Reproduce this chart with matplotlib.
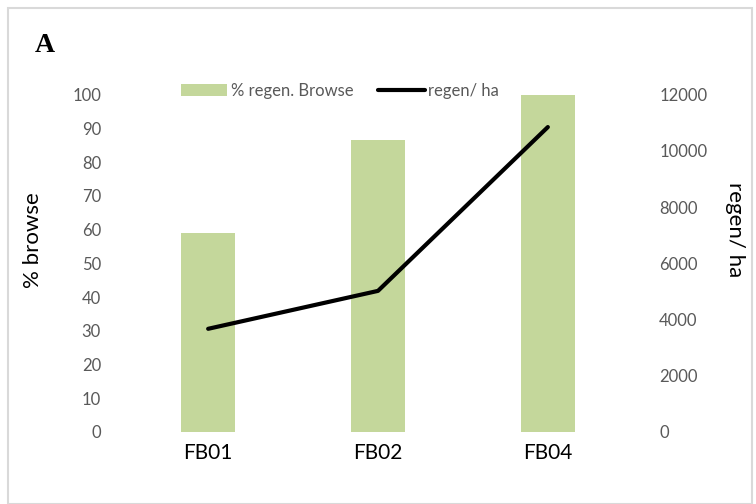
import numpy as np
from matplotlib import pyplot as plt
import matplotlib.patches as mpatches

plt.rcParams['font.family'] = ['Lato', 'DejaVu Sans']

sites = ['FB01', 'FB02', 'FB04']
pct_browse = [59, 86.7, 100]
regen_ha = [3670, 5020, 10850]

grey = '#595959'

fig = plt.figure(figsize=(7.56, 5.04), dpi=100)
ax = fig.add_axes([0.163, 0.143, 0.674, 0.669])
ax2 = ax.twinx()

x = np.arange(len(sites))
bars = ax.bar(x, pct_browse, width=0.32, color='#c4d79b', label='% regen. Browse', zorder=1)
line, = ax2.plot(x, regen_ha, color='black', lw=3, solid_capstyle='round', label='regen/ ha')

ax.set_xlim(-0.5, 2.5)
ax.set_ylim(0, 100)
ax.set_yticks(np.arange(0, 101, 10))
ax2.set_ylim(0, 12000)
ax2.set_yticks(np.arange(0, 12001, 2000))
ax.set_xticks(x)
ax.set_xticklabels(sites)

for a in (ax, ax2):
    for s in a.spines.values():
        s.set_visible(False)
    a.tick_params(length=0, labelsize=12, labelcolor=grey)
ax.tick_params(axis='y', pad=16)
ax.tick_params(axis='x', pad=8, labelsize=15, labelcolor='black')
ax2.tick_params(axis='y', pad=19)

ax.set_ylabel('% browse', fontsize=16, va='center')
ax.yaxis.set_label_coords(-0.178, 0.57)
ax2.set_ylabel('regen/ ha', fontsize=16, rotation=270, va='center')
ax2.yaxis.set_label_coords(1.2, 0.6)

fig.legend(handles=[bars, line], loc='center', bbox_to_anchor=(340/756, 1 - 91/504),
           ncol=2, frameon=False, fontsize=12, labelcolor=grey, handlelength=2.8,
           handletextpad=0.2, columnspacing=1.5)

fig.text(35/756, 1 - 45/504, 'A', fontsize=20, fontweight='bold', family='Liberation Serif',
         va='center', ha='left')

fig.patches.append(mpatches.Rectangle((8/756, 0), 744/756, 1 - 8/504, transform=fig.transFigure,
                                      fill=False, edgecolor='#d9d9d9', lw=1.5))

fig.savefig('out.png', dpi=100)
